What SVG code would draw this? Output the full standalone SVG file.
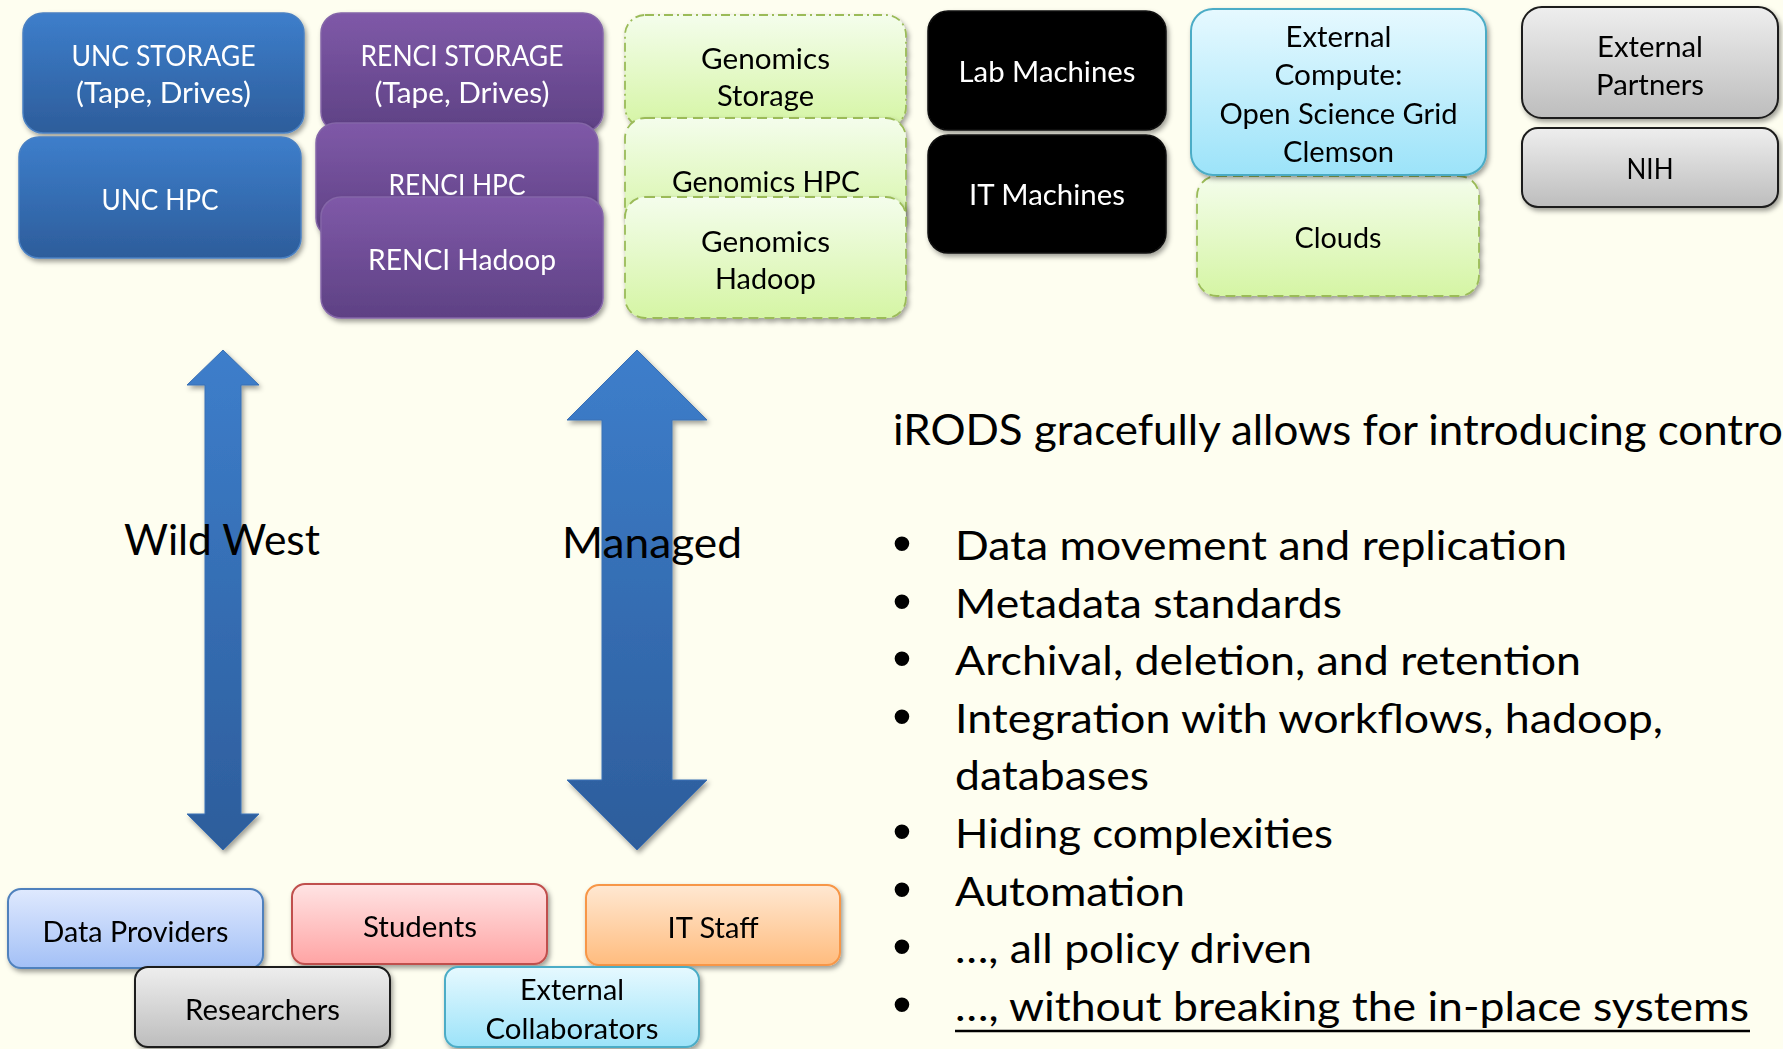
<svg xmlns="http://www.w3.org/2000/svg" width="1783" height="1049" viewBox="0 0 1783 1049">
<defs>
<linearGradient id="gBlue" x1="0" y1="0" x2="0" y2="1"><stop offset="0" stop-color="#3D7ECB"/><stop offset="1" stop-color="#2D5D9B"/></linearGradient>
<linearGradient id="gPurple" x1="0" y1="0" x2="0" y2="1"><stop offset="0" stop-color="#7F59A8"/><stop offset="1" stop-color="#5E4184"/></linearGradient>
<linearGradient id="gGreen" x1="0" y1="0" x2="0" y2="1"><stop offset="0" stop-color="#F4FDEC"/><stop offset="1" stop-color="#D5F5A4"/></linearGradient>
<linearGradient id="gCyan" x1="0" y1="0" x2="0" y2="1"><stop offset="0" stop-color="#E6F9FF"/><stop offset="1" stop-color="#9CE3F9"/></linearGradient>
<linearGradient id="gGray" x1="0" y1="0" x2="0" y2="1"><stop offset="0" stop-color="#EEEEEE"/><stop offset="1" stop-color="#BDBDBD"/></linearGradient>
<linearGradient id="gLBlue" x1="0" y1="0" x2="0" y2="1"><stop offset="0" stop-color="#DFE9FE"/><stop offset="1" stop-color="#A3C0F6"/></linearGradient>
<linearGradient id="gRed" x1="0" y1="0" x2="0" y2="1"><stop offset="0" stop-color="#FFE4E4"/><stop offset="1" stop-color="#FFA4A4"/></linearGradient>
<linearGradient id="gOrange" x1="0" y1="0" x2="0" y2="1"><stop offset="0" stop-color="#FFE8D2"/><stop offset="1" stop-color="#FFBC7E"/></linearGradient>
<filter id="shadow" x="-10%" y="-10%" width="125%" height="130%">
<feDropShadow dx="2" dy="3" stdDeviation="2.5" flood-color="#000" flood-opacity="0.38"/>
</filter>
<marker id="chev" markerUnits="userSpaceOnUse" markerWidth="30" markerHeight="30" viewBox="0 0 30 30" refX="24" refY="15" orient="auto">
<polyline points="4,4 24,15 4,26" fill="none" stroke="#4F81BD" stroke-width="5" stroke-linecap="round" stroke-linejoin="round"/>
</marker>
<style>
.sh{filter:url(#shadow)}
.blue{fill:url(#gBlue);stroke:#4A80C2;stroke-width:1.5}
.purple{fill:url(#gPurple);stroke:#8466A8;stroke-width:1.5}
.green{fill:url(#gGreen);stroke:#9BBB59;stroke-width:1.8;stroke-dasharray:10 6}
.greendd{fill:url(#gGreen);stroke:#9BBB59;stroke-width:1.8;stroke-dasharray:9 4 2 4}
.black{fill:#000;stroke:#111;stroke-width:1.5}
.cyan{fill:url(#gCyan);stroke:#4BACC6;stroke-width:2}
.gray{fill:url(#gGray);stroke:#1A1A1A;stroke-width:2}
.lblue{fill:url(#gLBlue);stroke:#4F81BD;stroke-width:2}
.red{fill:url(#gRed);stroke:#C0504D;stroke-width:2}
.orange{fill:url(#gOrange);stroke:#F79646;stroke-width:2}
text{font-family:Lato,"Open Sans","Liberation Sans",sans-serif}
.lw{fill:#fff;font-size:28px;text-anchor:middle}
.lk{fill:#000;font-size:28px;text-anchor:middle}
.big{fill:#000;font-size:43px}
.item{fill:#000;font-size:41px}
.bul{fill:#000;font-size:54px;font-family:"Liberation Sans",sans-serif;text-anchor:middle}
.arrow{fill:url(#gBlue);stroke:#3A70B5;stroke-width:1}
</style>
</defs>
<rect x="0" y="0" width="1783" height="1049" fill="#FEFEF0"/>

<g id="unc-storage" class="sh"><rect class="blue" x="23" y="13" width="281" height="120" rx="20"/>
<text class="lw" x="163.5" y="66" textLength="184" lengthAdjust="spacingAndGlyphs">UNC STORAGE</text>
<text class="lw" x="163.5" y="102.5" textLength="175" lengthAdjust="spacingAndGlyphs">(Tape, Drives)</text></g>
<g id="unc-hpc" class="sh"><rect class="blue" x="19" y="137" width="282" height="121" rx="20"/>
<text class="lw" x="160" y="210" textLength="117" lengthAdjust="spacingAndGlyphs">UNC HPC</text></g>

<g id="renci-storage" class="sh"><rect class="purple" x="321" y="13" width="282" height="119" rx="20"/>
<text class="lw" x="462" y="66" textLength="203" lengthAdjust="spacingAndGlyphs">RENCI STORAGE</text>
<text class="lw" x="462" y="102.5" textLength="175" lengthAdjust="spacingAndGlyphs">(Tape, Drives)</text></g>
<g id="renci-hpc" class="sh"><rect class="purple" x="316" y="123" width="282" height="115" rx="20"/>
<text class="lw" x="457" y="194.5" textLength="137" lengthAdjust="spacingAndGlyphs">RENCI HPC</text></g>
<g id="renci-hadoop" class="sh"><rect class="purple" x="321" y="197" width="282" height="121" rx="20"/>
<text class="lw" x="462" y="270" textLength="188" lengthAdjust="spacingAndGlyphs">RENCI Hadoop</text></g>

<g id="genomics-storage" class="sh"><rect class="greendd" x="625" y="15" width="281" height="112" rx="20"/>
<text class="lk" x="765.5" y="68.5" textLength="129" lengthAdjust="spacingAndGlyphs">Genomics</text>
<text class="lk" x="765.5" y="106" textLength="97" lengthAdjust="spacingAndGlyphs">Storage</text></g>
<g id="genomics-hpc" class="sh"><rect class="green" x="625" y="118" width="281" height="115" rx="20"/>
<text class="lk" x="766" y="191.5" textLength="188" lengthAdjust="spacingAndGlyphs">Genomics HPC</text></g>
<g id="genomics-hadoop" class="sh"><rect class="green" x="625" y="197" width="281" height="121" rx="20"/>
<text class="lk" x="765.5" y="251.5" textLength="129" lengthAdjust="spacingAndGlyphs">Genomics</text>
<text class="lk" x="765.5" y="289" textLength="101" lengthAdjust="spacingAndGlyphs">Hadoop</text></g>

<g id="lab-machines" class="sh"><rect class="black" x="928" y="11" width="238" height="119" rx="20"/>
<text class="lw" x="1047" y="81.5" textLength="177" lengthAdjust="spacingAndGlyphs">Lab Machines</text></g>
<g id="it-machines" class="sh"><rect class="black" x="928" y="135" width="238" height="118" rx="20"/>
<text class="lw" x="1047" y="205" textLength="156" lengthAdjust="spacingAndGlyphs">IT Machines</text></g>

<g id="clouds" class="sh"><rect class="green" x="1197" y="176" width="282" height="120" rx="20"/>
<text class="lk" x="1338" y="248" textLength="87" lengthAdjust="spacingAndGlyphs">Clouds</text></g>
<g id="external-compute" class="sh"><rect class="cyan" x="1191" y="9" width="295" height="166" rx="22"/>
<text class="lk" x="1338.5" y="46.5" textLength="106" lengthAdjust="spacingAndGlyphs">External</text>
<text class="lk" x="1338.5" y="85" textLength="128" lengthAdjust="spacingAndGlyphs">Compute:</text>
<text class="lk" x="1338.5" y="123.5" textLength="238" lengthAdjust="spacingAndGlyphs">Open Science Grid</text>
<text class="lk" x="1338.5" y="162" textLength="111" lengthAdjust="spacingAndGlyphs">Clemson</text></g>

<g id="external-partners" class="sh"><rect class="gray" x="1522" y="7" width="256" height="111" rx="20"/>
<text class="lk" x="1650" y="56.5" textLength="106" lengthAdjust="spacingAndGlyphs">External</text>
<text class="lk" x="1650" y="94.5" textLength="108" lengthAdjust="spacingAndGlyphs">Partners</text></g>
<g id="nih" class="sh"><rect class="gray" x="1522" y="128" width="256" height="79" rx="16"/>
<text class="lk" x="1650" y="179" textLength="47" lengthAdjust="spacingAndGlyphs">NIH</text></g>

<g id="arrows">
<polygon class="arrow sh" points="223,350 259,385 241,385 241,814 259,814 223,850 187,814 205,814 205,385 187,385"/>
<polygon class="arrow sh" points="637,350 707,420 672,420 672,780 707,780 637,850 567,780 602,780 602,420 567,420"/>
</g>
<g id="connectors">
<line x1="326" y1="588" x2="521" y2="588" stroke="#4F81BD" stroke-width="4.5" marker-end="url(#chev)" class="sh"/>
</g>
<g id="labels-phase">
<text class="big" x="124" y="555" textLength="196" lengthAdjust="spacingAndGlyphs">Wild West</text>
<text class="big" x="562" y="557.5" textLength="180" lengthAdjust="spacingAndGlyphs">Managed</text>
</g>

<g id="data-providers" class="sh"><rect class="lblue" x="8" y="889" width="255" height="79" rx="13"/>
<text class="lk" x="135.5" y="941.5" textLength="186" lengthAdjust="spacingAndGlyphs">Data Providers</text></g>
<g id="students" class="sh"><rect class="red" x="292" y="884" width="255" height="80" rx="13"/>
<text class="lk" x="420" y="936.5" textLength="114" lengthAdjust="spacingAndGlyphs">Students</text></g>
<g id="it-staff" class="sh"><rect class="orange" x="586" y="885" width="254" height="80" rx="13"/>
<text class="lk" x="713" y="937.5" textLength="91" lengthAdjust="spacingAndGlyphs">IT Staff</text></g>
<g id="researchers" class="sh"><rect class="gray" x="135" y="967" width="255" height="80" rx="13"/>
<text class="lk" x="262.5" y="1020" textLength="155" lengthAdjust="spacingAndGlyphs">Researchers</text></g>
<g id="external-collaborators" class="sh"><rect class="cyan" x="445" y="967" width="254" height="80" rx="13"/>
<text class="lk" x="572" y="1000" textLength="104" lengthAdjust="spacingAndGlyphs">External</text>
<text class="lk" x="572" y="1039" textLength="173" lengthAdjust="spacingAndGlyphs">Collaborators</text></g>

<g id="irods-text">
<text class="big" x="893" y="445" textLength="890" lengthAdjust="spacingAndGlyphs">iRODS gracefully allows for introducing contro</text>
<text class="bul" x="902" y="562">•</text>
<text class="item" x="955" y="560" textLength="612" lengthAdjust="spacingAndGlyphs">Data movement and replication</text>
<text class="bul" x="902" y="619.6">•</text>
<text class="item" x="955" y="617.6" textLength="387" lengthAdjust="spacingAndGlyphs">Metadata standards</text>
<text class="bul" x="902" y="677.2">•</text>
<text class="item" x="955" y="675.2" textLength="626" lengthAdjust="spacingAndGlyphs">Archival, deletion, and retention</text>
<text class="bul" x="902" y="734.8">•</text>
<text class="item" x="955" y="732.8" textLength="708" lengthAdjust="spacingAndGlyphs">Integration with workflows, hadoop,</text>
<text class="item" x="955" y="790.4" textLength="194" lengthAdjust="spacingAndGlyphs">databases</text>
<text class="bul" x="902" y="850">•</text>
<text class="item" x="955" y="848" textLength="378" lengthAdjust="spacingAndGlyphs">Hiding complexities</text>
<text class="bul" x="902" y="907.6">•</text>
<text class="item" x="955" y="905.6" textLength="230" lengthAdjust="spacingAndGlyphs">Automation</text>
<text class="bul" x="902" y="965.2">•</text>
<text class="item" x="955" y="963.2" textLength="357" lengthAdjust="spacingAndGlyphs">…, all policy driven</text>
<text class="bul" x="902" y="1022.8">•</text>
<text class="item" x="955" y="1020.8" textLength="794" lengthAdjust="spacingAndGlyphs">…, without breaking the in-place systems</text>
<line x1="955" y1="1031" x2="1750" y2="1031" stroke="#000" stroke-width="2.5"/>
</g>
</svg>
